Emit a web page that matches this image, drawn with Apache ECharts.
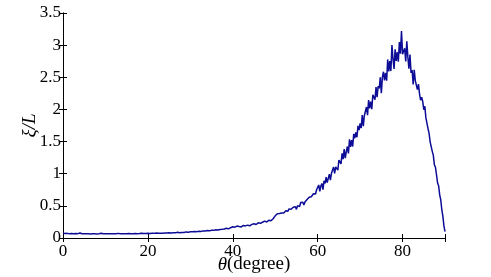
<!DOCTYPE html>
<html>
<head>
<meta charset="utf-8">
<script src="https://cdn.jsdelivr.net/npm/echarts@6/dist/echarts.min.js"></script>
<style>html,body{margin:0;padding:0;background:#fff}#c{width:491px;height:277px}</style>
</head>
<body>
<div id="c"></div>
<script>
// coarse part: 0 .. 49.5 step 0.5
var thetaA = [
0,0.5,1,1.5,2,2.5,3,3.5,4,4.5,5,5.5,6,6.5,7,7.5,8,8.5,9,9.5,
10,10.5,11,11.5,12,12.5,13,13.5,14,14.5,15,15.5,16,16.5,17,17.5,18,18.5,19,19.5,
20,20.5,21,21.5,22,22.5,23,23.5,24,24.5,25,25.5,26,26.5,27,27.5,28,28.5,29,29.5,
30,30.5,31,31.5,32,32.5,33,33.5,34,34.5,35,35.5,36,36.5,37,37.5,38,38.5,39,39.5,
40,40.5,41,41.5,42,42.5,43,43.5,44,44.5,45,45.5,46,46.5,47,47.5,48,48.5,49,49.5];
var xiA = [
0.075,0.070,0.072,0.068,0.071,0.067,0.069,0.068,0.078,0.066,
0.067,0.065,0.066,0.064,0.066,0.065,0.064,0.067,0.074,0.065,
0.066,0.065,0.067,0.066,0.068,0.066,0.072,0.067,0.066,0.068,
0.067,0.069,0.068,0.067,0.070,0.068,0.069,0.075,0.069,0.070,
0.072,0.070,0.073,0.072,0.079,0.073,0.075,0.074,0.077,0.076,
0.080,0.078,0.082,0.080,0.090,0.083,0.086,0.085,0.095,0.088,
0.098,0.096,0.101,0.099,0.106,0.103,0.109,0.108,0.116,0.111,
0.120,0.119,0.128,0.123,0.131,0.135,0.140,0.152,0.142,0.160,
0.175,0.168,0.185,0.178,0.172,0.195,0.188,0.200,0.190,0.212,
0.222,0.210,0.236,0.228,0.245,0.262,0.250,0.275,0.268,0.300];
// fine part: 50 .. 90 step 0.25
var thetaB = [
50,50.25,50.5,50.75,51,51.25,51.5,51.75,52,52.25,52.5,52.75,53,53.25,53.5,53.75,54,54.25,54.5,54.75,
55,55.25,55.5,55.75,56,56.25,56.5,56.75,57,57.25,57.5,57.75,58,58.25,58.5,58.75,59,59.25,59.5,59.75,
60,60.25,60.5,60.75,61,61.25,61.5,61.75,62,62.25,62.5,62.75,63,63.25,63.5,63.75,64,64.25,64.5,64.75,
65,65.25,65.5,65.75,66,66.25,66.5,66.75,67,67.25,67.5,67.75,68,68.25,68.5,68.75,69,69.25,69.5,69.75,
70,70.25,70.5,70.75,71,71.25,71.5,71.75,72,72.25,72.5,72.75,73,73.25,73.5,73.75,74,74.25,74.5,74.75,
75,75.25,75.5,75.75,76,76.25,76.5,76.75,77,77.25,77.5,77.75,78,78.25,78.5,78.75,79,79.25,79.5,79.75,
80,80.25,80.5,80.75,81,81.25,81.5,81.75,82,82.25,82.5,82.75,83,83.25,83.5,83.75,84,84.25,84.5,84.75,
85,85.25,85.5,85.75,86,86.25,86.5,86.75,87,87.25,87.5,87.75,88,88.25,88.5,88.75,89,89.25,89.5,89.75,
90];
var xiB = [
0.345,0.332,0.377,0.359,0.380,0.357,0.388,0.410,0.390,0.382,0.425,0.423,0.415,0.453,0.422,0.448,0.432,0.478,0.457,0.486,
0.445,0.504,0.504,0.489,0.552,0.521,0.556,0.515,0.560,0.559,0.600,0.570,0.635,0.604,0.642,0.621,0.688,0.688,0.684,0.751,
0.728,0.825,0.727,0.810,0.848,0.753,0.890,0.848,0.948,0.862,0.928,0.993,0.900,1.006,0.975,1.103,1.005,1.105,1.092,1.057,
1.213,1.199,1.152,1.317,1.228,1.383,1.241,1.343,1.423,1.316,1.535,1.418,1.522,1.423,1.619,1.552,1.642,1.567,1.744,1.679,
1.783,1.710,1.913,1.739,1.905,1.902,2.038,1.909,2.146,2.015,2.123,2.005,2.226,2.196,2.152,2.349,2.192,2.365,2.325,2.498,
2.252,2.503,2.586,2.451,2.567,2.446,2.778,2.590,2.754,2.597,3.000,2.787,2.629,2.934,2.753,2.890,2.742,3.048,2.866,3.220,
2.860,2.835,2.951,2.745,3.060,2.817,2.632,2.852,2.569,2.614,2.388,2.618,2.449,2.462,2.308,2.393,2.242,2.144,2.190,2.124,
1.996,2.048,1.868,1.880,1.700,1.628,1.496,1.478,1.348,1.286,1.138,1.100,0.984,0.856,0.812,0.672,0.592,0.440,0.336,0.188,
0.100];
var xTicks = [0,20,40,60,80];
var yTicks = [0,0.5,1,1.5,2,2.5,3,3.5];

var data = [];
thetaA.forEach(function(t,i){data.push([t, xiA[i]]);});
thetaB.forEach(function(t,i){data.push([t, xiB[i]]);});
var font = 'Liberation Serif';
var axisLine = {show:true, lineStyle:{color:'#000', width:1}};
var tick = {show:true, inside:true, length:4, lineStyle:{color:'#000'}};
var chart = echarts.init(document.getElementById('c'));
chart.setOption({
  animation:false,
  grid:{left:63, right:46, top:13, bottom:39, containLabel:false, outerBoundsMode:'none'},
  xAxis:[{
    type:'value', min:0, max:90, interval:20,
    axisLine:axisLine, axisTick:tick, splitLine:{show:false},
    axisLabel:{fontFamily:font, fontSize:17, color:'#000', margin:5,
      formatter:function(v){return xTicks.indexOf(v)>=0?String(v):'';}},
    name:'{i|θ}(degree)', nameLocation:'middle', nameGap:17, nameMoveOverlap:false,
    nameTextStyle:{fontFamily:font, fontSize:19, color:'#000', verticalAlign:'top',
      rich:{i:{fontFamily:font, fontSize:19, fontStyle:'italic', color:'#000'}}}
  },{
    type:'value', position:'top', min:0, max:90, interval:20,
    axisLine:axisLine, axisTick:tick, axisLabel:{show:false}, splitLine:{show:false}
  }],
  yAxis:[{
    type:'value', min:0, max:3.5, interval:0.5,
    axisLine:axisLine, axisTick:tick, splitLine:{show:false},
    axisLabel:{fontFamily:font, fontSize:17, color:'#000', margin:2,
      formatter:function(v){return yTicks.indexOf(v)>=0?String(v):'';}},
    name:'ξ/L', nameLocation:'middle', nameGap:24, nameRotate:90, nameMoveOverlap:false,
    nameTextStyle:{fontFamily:font, fontSize:19, fontStyle:'italic', color:'#000'}
  },{
    type:'value', position:'right', min:0, max:3.5, interval:0.5,
    axisLine:axisLine, axisTick:tick, axisLabel:{show:false}, splitLine:{show:false}
  }],
  series:[{
    type:'line', data:data, showSymbol:false, symbol:'none',
    lineStyle:{color:'#0c0c96', width:1.5}, xAxisIndex:0, yAxisIndex:0
  }]
});
</script>
</body>
</html>
